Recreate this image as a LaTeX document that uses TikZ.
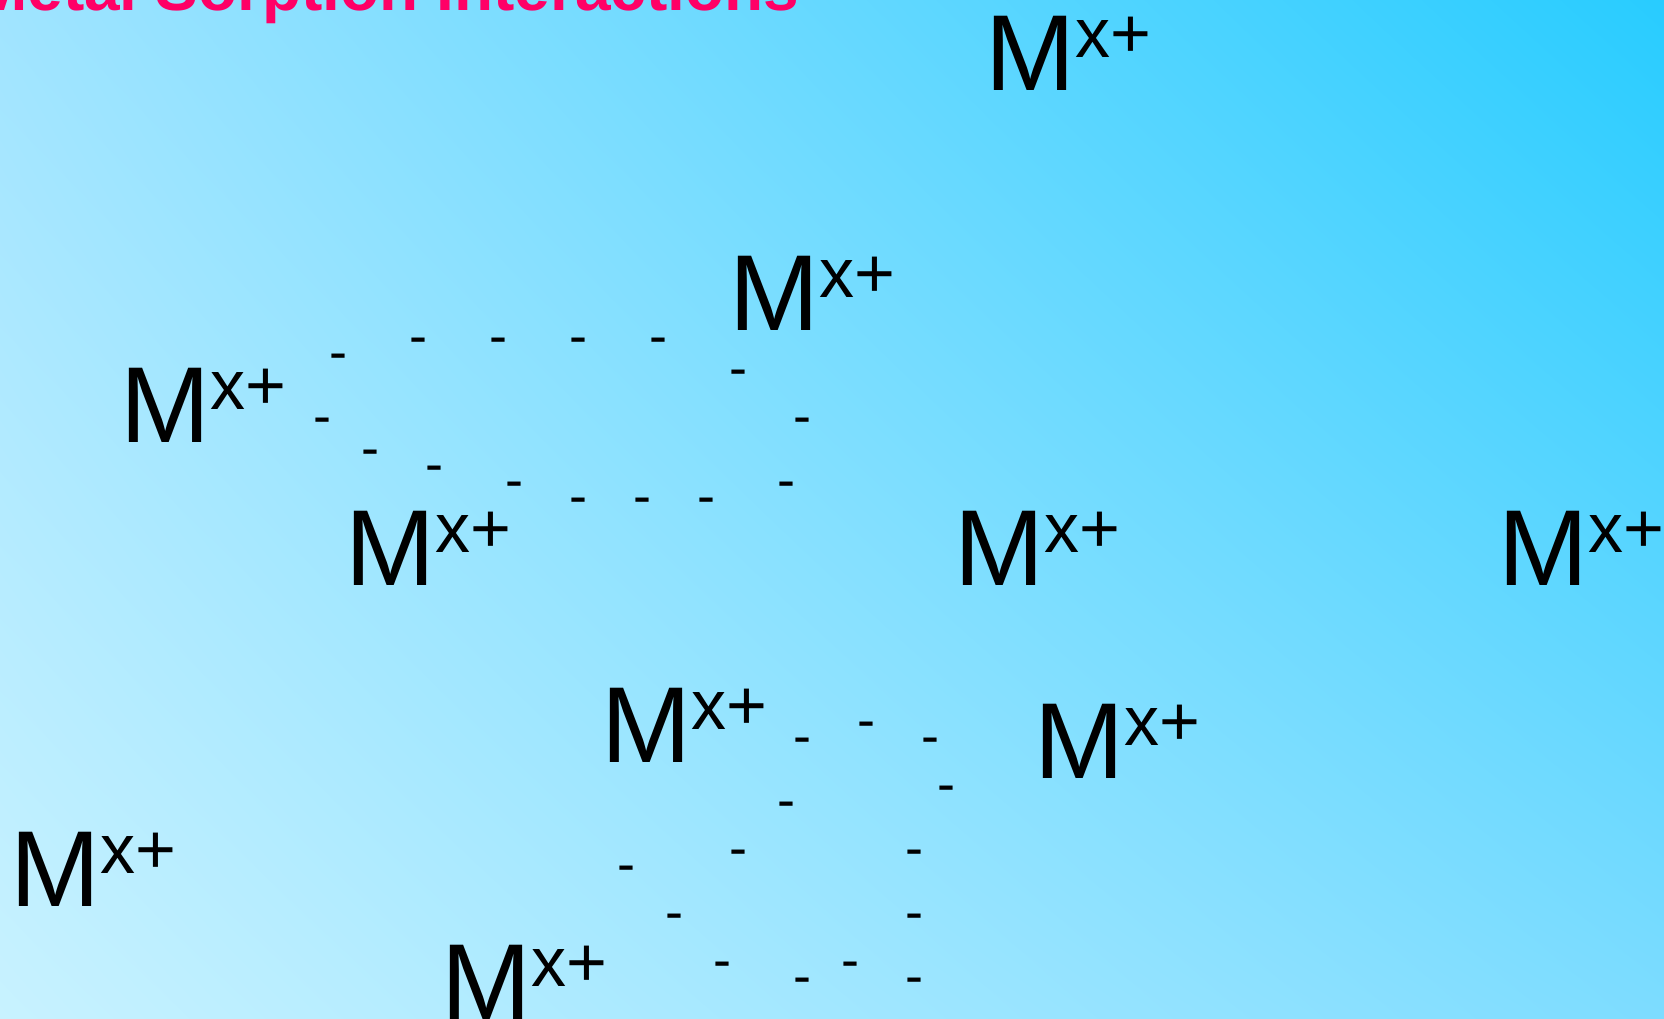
\documentclass[tikz,border=0pt]{standalone}
\usepackage{fontspec}
\setmainfont{Liberation Sans}
\usepackage{xcolor}
\usetikzlibrary{shadings}
\definecolor{bgul}{RGB}{160,228,255}
\definecolor{bgur}{RGB}{40,204,255}
\definecolor{bgll}{RGB}{200,242,255}
\definecolor{bglr}{RGB}{125,220,255}
\definecolor{titlepink}{RGB}{255,0,102}
\newcommand{\mion}{M\raisebox{32.5pt}{\fontsize{70}{70}\selectfont x+}}
\tikzset{
  ion/.style={inner sep=0pt,anchor=base west,font=\fontsize{108}{108}\selectfont},
  charge/.style={inner sep=0pt,anchor=base,yshift=-14pt,font=\fontsize{54}{54}\selectfont},
  heading/.style={inner sep=0pt,anchor=base west,titlepink,font=\fontsize{64}{64}\selectfont\bfseries}
}
\begin{document}
\begin{tikzpicture}[x=1pt,y=-1pt]
\useasboundingbox (0,0) rectangle (1664,1018);
\shade[upper left=bgul,upper right=bgur,lower left=bgll,lower right=bglr] (0,0) rectangle (1664,1018);
\node[heading] (t) at (-26,10) {Metal Sorption Interactions};
% metal ions
\node[ion] (m1) at (985,90) {\mion};
\node[ion] (m2) at (729,330) {\mion};
\node[ion] (m3) at (120,442) {\mion};
\node[ion] (m4) at (345,585) {\mion};
\node[ion] (m5) at (954,585) {\mion};
\node[ion] (m6) at (1498,585) {\mion};
\node[ion] (m7) at (601,762) {\mion};
\node[ion] (m8) at (1034,778) {\mion};
\node[ion] (m9) at (10,906) {\mion};
\node[ion] (m10) at (441,1019) {\mion};
% upper ring of charges
\node[charge] (c1) at (338,356) {-};
\node[charge] (c2) at (418,340) {-};
\node[charge] (c3) at (498,340) {-};
\node[charge] (c4) at (578,340) {-};
\node[charge] (c5) at (658,340) {-};
\node[charge] (c6) at (738,372) {-};
\node[charge] (c7) at (802,420) {-};
\node[charge] (c8) at (786,484) {-};
\node[charge] (c9) at (706,500) {-};
\node[charge] (c10) at (642,500) {-};
\node[charge] (c11) at (578,500) {-};
\node[charge] (c12) at (514,484) {-};
\node[charge] (c13) at (434,468) {-};
\node[charge] (c14) at (370,452) {-};
\node[charge] (c15) at (322,420) {-};
% lower ring of charges
\node[charge] (c16) at (802,740) {-};
\node[charge] (c17) at (866,724) {-};
\node[charge] (c18) at (930,740) {-};
\node[charge] (c19) at (946,788) {-};
\node[charge] (c20) at (786,804) {-};
\node[charge] (c21) at (738,852) {-};
\node[charge] (c22) at (914,852) {-};
\node[charge] (c23) at (626,868) {-};
\node[charge] (c24) at (674,916) {-};
\node[charge] (c25) at (914,916) {-};
\node[charge] (c26) at (722,964) {-};
\node[charge] (c27) at (850,964) {-};
\node[charge] (c28) at (802,980) {-};
\node[charge] (c29) at (914,980) {-};
\end{tikzpicture}
\end{document}
